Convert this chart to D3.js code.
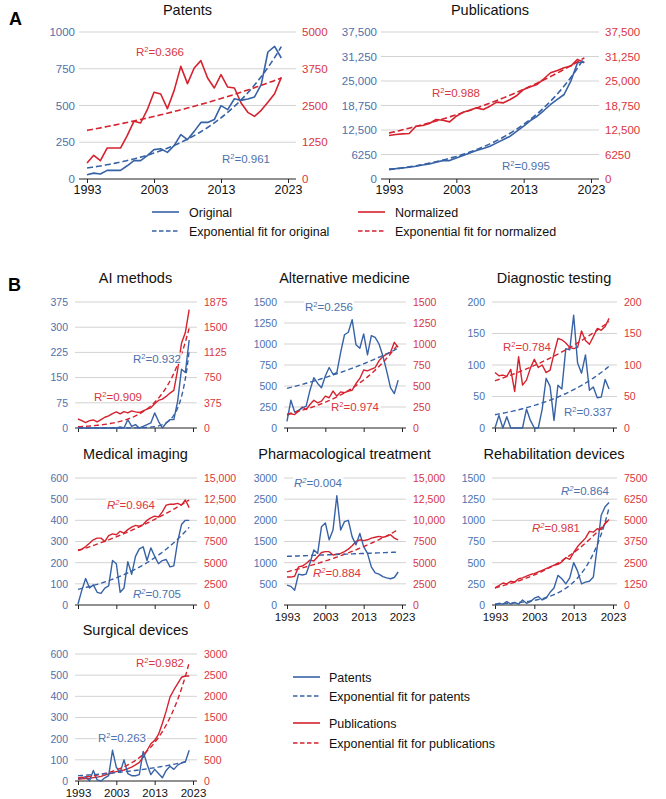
<!DOCTYPE html>
<html>
<head>
<meta charset="utf-8">
<script src="https://cdn.jsdelivr.net/npm/d3@7"></script>
<style>
  body { margin: 0; background: #fff; }
  svg { font-family: "Liberation Sans", Arial, sans-serif; }
</style>
</head>
<body>
<svg width="666" height="799"></svg>
<script>
// ---------- data ----------
const years = [1993,1994,1995,1996,1997,1998,1999,2000,2001,2002,2003,2004,2005,2006,2007,
               2008,2009,2010,2011,2012,2013,2014,2015,2016,2017,2018,2019,2020,2021,2022];
const yearTicks = [1993, 2003, 2013, 2023];

// Panel A
const patOrig = [29,40,34,59,59,59,90,125,125,159,200,206,181,227,302,268,324,385,385,404,499,472,546,535,544,558,642,864,902,823];
const patNorm = [544,805,624,1054,1054,1054,1474,1961,1905,2358,2948,2891,2392,3005,3832,3243,3776,4025,3435,3095,3549,3129,3095,2585,2268,2132,2336,2608,2902,3458];
const pubOrig = [2560,2640,2810,2980,3240,3580,3840,4260,4690,4690,5370,5970,6650,7250,7760,8350,9210,10060,10910,12190,13470,14920,16020,17470,19010,20290,21560,24970,29660,29830];
const pubNorm = [11080,11340,11510,11590,13470,13640,14150,15170,15000,14570,16020,17050,17560,18150,17730,18580,19600,19430,20290,21310,22840,23520,24120,25570,27100,27700,28380,28810,30510,29660];
// exponential fits: [fitted value in 2022, growth rate per year]
const patOrigFit = [900, 0.0857], patNormFit = [3435, 0.0252];
const pubOrigFit = [30900, 0.0884], pubNormFit = [30900, 0.0334];
const patTicksA = [0, 250, 500, 750, 1000], patNormTicksA = [0, 1250, 2500, 3750, 5000];
const pubTicksA = [0, 6250, 12500, 18750, 25000, 31250, 37500];

// Panel B
const bTitles = ["AI methods", "Alternative medicine", "Diagnostic testing", "Medical imaging",
                 "Pharmacological treatment", "Rehabilitation devices", "Surgical devices"];
const aiPat = [0,0,0,0,0,0,0,0,0,0,0,3,0,25,5,10,0,5,10,15,45,20,0,15,25,25,80,175,165,262];
const aiPub = [134,110,80,110,120,90,125,160,180,215,240,210,245,225,255,240,230,255,280,300,360,410,430,470,520,560,870,1260,1420,1760];
const altPat = [80,330,190,210,240,260,450,600,530,480,620,720,640,660,900,1110,1140,1290,990,950,1120,870,1100,1080,1000,860,680,480,410,570];
const altPub = [150,170,160,200,250,220,280,330,300,320,380,360,440,380,430,420,440,450,530,590,690,680,700,720,800,850,880,900,1020,960];
const diagPat = [0,20,0,18,0,0,0,0,30,12,0,0,30,79,66,12,68,62,126,124,179,103,87,116,60,65,48,49,77,62];
const diagPub = [88,83,84,82,93,58,113,68,76,95,109,96,100,88,92,118,142,140,135,128,126,128,154,139,133,145,158,155,161,174];
const medPat = [5,70,125,80,95,60,55,80,90,210,195,60,80,205,145,230,265,275,210,270,230,195,210,215,180,185,300,380,400,400];
const medPub = [6500,6600,6900,7300,7700,7900,7900,7500,8200,8400,8300,8700,8500,8900,9200,9400,9300,9500,10000,10300,10500,10400,11000,11800,11900,11900,12000,11800,12400,11500];
const pharmaPat = [470,440,350,730,710,730,990,1300,1220,1850,1940,1540,1770,2580,1770,1970,2000,1610,1420,1690,1380,1220,900,760,730,670,640,620,650,780];
const pharmaPub = [3300,3300,3400,4500,4600,4900,5300,5200,5700,6200,6300,6300,5900,6000,6100,6300,6600,7000,7500,7700,7600,7700,7900,8000,8100,8000,8100,8300,7900,7700];
const rehabPat = [0,20,10,40,10,30,10,60,20,40,80,100,60,80,150,200,350,310,250,320,500,400,250,270,280,330,690,1060,1160,1210];
const rehabPub = [1000,1150,1300,1250,1400,1350,1550,1600,1700,1800,1850,1950,2050,2150,2250,2350,2400,2550,2800,2700,3100,3450,3700,3950,4350,4300,4500,4450,4800,5050];
const surgPat = [10,15,20,0,50,5,0,15,25,145,65,40,100,35,25,25,30,140,80,30,55,35,15,50,70,55,75,85,90,145];
const surgPub = [40,50,60,60,80,90,110,140,170,190,220,240,260,290,330,380,440,560,720,880,960,1100,1360,1650,1980,2150,2300,2450,2480,2480];
const patR2 = ["0.932", "0.256", "0.337", "0.705", "0.004", "0.864", "0.263"];
const pubR2 = ["0.909", "0.974", "0.784", "0.964", "0.884", "0.981", "0.982"];
const r2Italic = [false, false, false, true, true, true, false];
const patFitEnd = [230, 950, 98, 367, 1250, 1150, 95];
const patFitRate = [0.45, 0.0241, 0.053, 0.0552, 0.0029, 0.16, 0.046];
const pubFitEnd = [1486, 1000, 169, 12400, 8900, 5100, 2800];
const pubFitRate = [0.1507, 0.0621, 0.028, 0.0227, 0.0283, 0.0555, 0.125];
const leftMax = [375, 1500, 200, 600, 3000, 1500, 600];
const leftStep = [75, 250, 50, 100, 500, 250, 100];
const rightMax = [1875, 1500, 200, 15000, 15000, 7500, 3000];
const rightStep = [375, 250, 50, 2500, 2500, 1250, 500];

// ---------- style ----------
const blue = "#3762a6", red = "#d5222e", blueText = "#4d71ad", redText = "#d83641", gridCol = "#d3d3d3";
const svg = d3.select("svg");
const fmt = v => v >= 10000 ? d3.format(",")(v) : String(v);

function r2Label(g, cx, cy, val, color, italic) {
    const t = g.append("text")
        .attr("x", cx).attr("y", cy + 4)
        .attr("text-anchor", "middle")
        .style("font-size", "11.5px")
        .attr("fill", color);
    t.append("tspan").text("R").style("font-style", italic ? "italic" : "normal");
    t.append("tspan").text("2").attr("dy", -4.5).style("font-size", "7.5px")
        .style("font-style", italic ? "italic" : "normal");
    t.append("tspan").text("=" + val).attr("dy", 4.5);
    const b = t.node().getBBox();
    g.insert("rect", () => t.node())
        .attr("x", b.x - 1).attr("y", b.y + 1).attr("width", b.width + 2).attr("height", b.height - 2)
        .attr("fill", "#fff").attr("opacity", 0.8);
}

function drawPanel(p) {
    const g = svg.append("g");
    const x = d3.scaleLinear().domain([1993, 2023]).range([p.x0, p.x1]);
    const yL = d3.scaleLinear().domain([0, d3.max(p.leftTicks)]).range([p.bottom, p.top]);
    const yR = d3.scaleLinear().domain([0, d3.max(p.rightTicks)]).range([p.bottom, p.top]);
    const gx0 = p.x0 - p.gl, gx1 = p.x1 + p.gr;

    // gridlines
    g.selectAll("line.grid").data(p.leftTicks.slice(1)).join("line")
        .attr("x1", gx0).attr("x2", gx1)
        .attr("y1", d => yL(d)).attr("y2", d => yL(d))
        .attr("stroke", gridCol).attr("stroke-width", 1);

    // base line + year ticks
    g.append("line").attr("x1", gx0).attr("x2", gx1)
        .attr("y1", p.bottom).attr("y2", p.bottom)
        .attr("stroke", "#222").attr("stroke-width", 1);
    const xa = g.append("g").attr("transform", `translate(0,${p.bottom})`)
        .call(d3.axisBottom(x).tickValues(yearTicks).tickSize(4).tickSizeOuter(0).tickPadding(p.xPad)
            .tickFormat(p.xLabels ? d3.format("d") : () => ""));
    xa.select(".domain").remove();
    xa.selectAll("line").attr("stroke", "#222");
    xa.selectAll("text").attr("fill", "#111").style("font-size", p.xFont + "px")
        .style("font-family", "'Liberation Sans', Arial, sans-serif");

    // left and right axes
    const la = g.append("g").attr("transform", `translate(${gx0 - p.lp},0)`)
        .call(d3.axisLeft(yL).tickValues(p.leftTicks).tickSize(0).tickPadding(0).tickFormat(fmt));
    la.select(".domain").remove();
    la.selectAll("text").attr("fill", blueText).style("font-size", p.yFont + "px")
        .style("font-family", "'Liberation Sans', Arial, sans-serif");
    const ra = g.append("g").attr("transform", `translate(${gx1 + p.rp},0)`)
        .call(d3.axisRight(yR).tickValues(p.rightTicks).tickSize(0).tickPadding(0).tickFormat(fmt));
    ra.select(".domain").remove();
    ra.selectAll("text").attr("fill", redText).style("font-size", p.yFont + "px")
        .style("font-family", "'Liberation Sans', Arial, sans-serif");

    // title
    g.append("text").attr("x", (p.x0 + p.x1) / 2).attr("y", p.titleY)
        .attr("text-anchor", "middle").style("font-size", "14.5px").attr("fill", "#111")
        .text(p.title);

    // series
    const lineL = d3.line().x((d, i) => x(years[i])).y(d => yL(d));
    const lineR = d3.line().x((d, i) => x(years[i])).y(d => yR(d));
    g.append("path").datum(p.red).attr("d", lineR)
        .attr("fill", "none").attr("stroke", red).attr("stroke-width", p.lw).attr("stroke-linejoin", "round");
    g.append("path").datum(p.blue).attr("d", lineL)
        .attr("fill", "none").attr("stroke", blue).attr("stroke-width", p.lw).attr("stroke-linejoin", "round");

    // exponential fits
    const fitYears = d3.range(1993, 2022.01, 0.25);
    const fitVal = (f, t) => f[0] * Math.exp(f[1] * (t - 2022));
    g.append("path").datum(fitYears)
        .attr("d", d3.line().x(t => x(t)).y(t => yR(fitVal(p.redFit, t))))
        .attr("fill", "none").attr("stroke", red).attr("stroke-width", p.lw).attr("stroke-dasharray", p.dash);
    g.append("path").datum(fitYears)
        .attr("d", d3.line().x(t => x(t)).y(t => yL(fitVal(p.blueFit, t))))
        .attr("fill", "none").attr("stroke", blue).attr("stroke-width", p.lw).attr("stroke-dasharray", p.dash);

    // R² labels
    r2Label(g, p.redLab[0], p.redLab[1], p.redR2, redText, p.italic);
    r2Label(g, p.blueLab[0], p.blueLab[1], p.blueR2, blueText, p.italic);
}

// ---------- panel A ----------
svg.append("text").attr("x", 9).attr("y", 25).style("font-size", "18px").style("font-weight", "bold").text("A");
svg.append("text").attr("x", 8).attr("y", 291).style("font-size", "18px").style("font-weight", "bold").text("B");

const aBase = { top: 32, bottom: 179, gl: 8, gr: 8, lp: 4, rp: 6, yFont: 11.5, xFont: 12.5, xLabels: true,
                xPad: 2, titleY: 15, lw: 1.6, dash: "6,3", italic: false };
drawPanel(Object.assign({}, aBase, {
    x0: 87, x1: 288, title: "Patents",
    leftTicks: patTicksA, rightTicks: patNormTicksA,
    blue: patOrig, red: patNorm, blueFit: patOrigFit, redFit: patNormFit,
    blueR2: "0.961", redR2: "0.366", blueLab: [246, 159], redLab: [160, 52]
}));
drawPanel(Object.assign({}, aBase, {
    x0: 389, x1: 591, title: "Publications",
    leftTicks: pubTicksA, rightTicks: pubTicksA,
    blue: pubOrig, red: pubNorm, blueFit: pubOrigFit, redFit: pubNormFit,
    blueR2: "0.995", redR2: "0.988", blueLab: [526, 166], redLab: [456, 93]
}));

// legend A
const legA = svg.append("g").style("font-size", "12.5px");
[
    { x: 152, y: 212, c: blue, dash: null, t: "Original" },
    { x: 152, y: 231, c: blue, dash: "4.5,2.5", t: "Exponential fit for original" },
    { x: 358, y: 212, c: red, dash: null, t: "Normalized" },
    { x: 358, y: 231, c: red, dash: "4.5,2.5", t: "Exponential fit for normalized" }
].forEach(d => {
    legA.append("line").attr("x1", d.x).attr("x2", d.x + 27).attr("y1", d.y).attr("y2", d.y)
        .attr("stroke", d.c).attr("stroke-width", 1.6).attr("stroke-dasharray", d.dash);
    legA.append("text").attr("x", d.x + 37).attr("y", d.y + 4.5).attr("fill", "#111").text(d.t);
});

// ---------- panel B ----------
const colX0 = [78, 287, 495], colW = [115, 115, 118];
const rowTop = [302, 478, 654], rowBottom = [428, 605, 781];
const patB = [aiPat, altPat, diagPat, medPat, pharmaPat, rehabPat, surgPat];
const pubB = [aiPub, altPub, diagPub, medPub, pharmaPub, rehabPub, surgPub];
const patLabPos = [[157, 359], [329, 307], [588, 412], [157, 594], [318, 483], [585, 491], [122, 738]];
const pubLabPos = [[118, 397], [355, 407], [527, 347], [131, 505], [337, 573], [556, 528], [160, 663]];
const showYears = [false, false, false, false, true, true, true];

bTitles.forEach((title, i) => {
    const col = i % 3, row = Math.floor(i / 3);
    drawPanel({
        x0: colX0[col], x1: colX0[col] + colW[col], top: rowTop[row], bottom: rowBottom[row],
        gl: 3, gr: 4, lp: 7, rp: 7, yFont: 10.5, xFont: 11.5, xLabels: showYears[i], xPad: 4,
        titleY: rowTop[row] - 19.5, lw: 1.4, dash: "5,3", title: title,
        leftTicks: d3.range(0, leftMax[i] + 1, leftStep[i]),
        rightTicks: d3.range(0, rightMax[i] + 1, rightStep[i]),
        blue: patB[i], red: pubB[i],
        blueFit: [patFitEnd[i], patFitRate[i]], redFit: [pubFitEnd[i], pubFitRate[i]],
        blueR2: patR2[i], redR2: pubR2[i], italic: r2Italic[i],
        blueLab: patLabPos[i], redLab: pubLabPos[i]
    });
});

// legend B
const legB = svg.append("g").style("font-size", "12.5px");
[
    { y: 677, c: blue, dash: null, t: "Patents" },
    { y: 696, c: blue, dash: "4.5,2.5", t: "Exponential fit for patents" },
    { y: 723, c: red, dash: null, t: "Publications" },
    { y: 743, c: red, dash: "4.5,2.5", t: "Exponential fit for publications" }
].forEach(d => {
    legB.append("line").attr("x1", 293).attr("x2", 320).attr("y1", d.y).attr("y2", d.y)
        .attr("stroke", d.c).attr("stroke-width", 1.6).attr("stroke-dasharray", d.dash);
    legB.append("text").attr("x", 329).attr("y", d.y + 4.5).attr("fill", "#111").text(d.t);
});
</script>
</body>
</html>
